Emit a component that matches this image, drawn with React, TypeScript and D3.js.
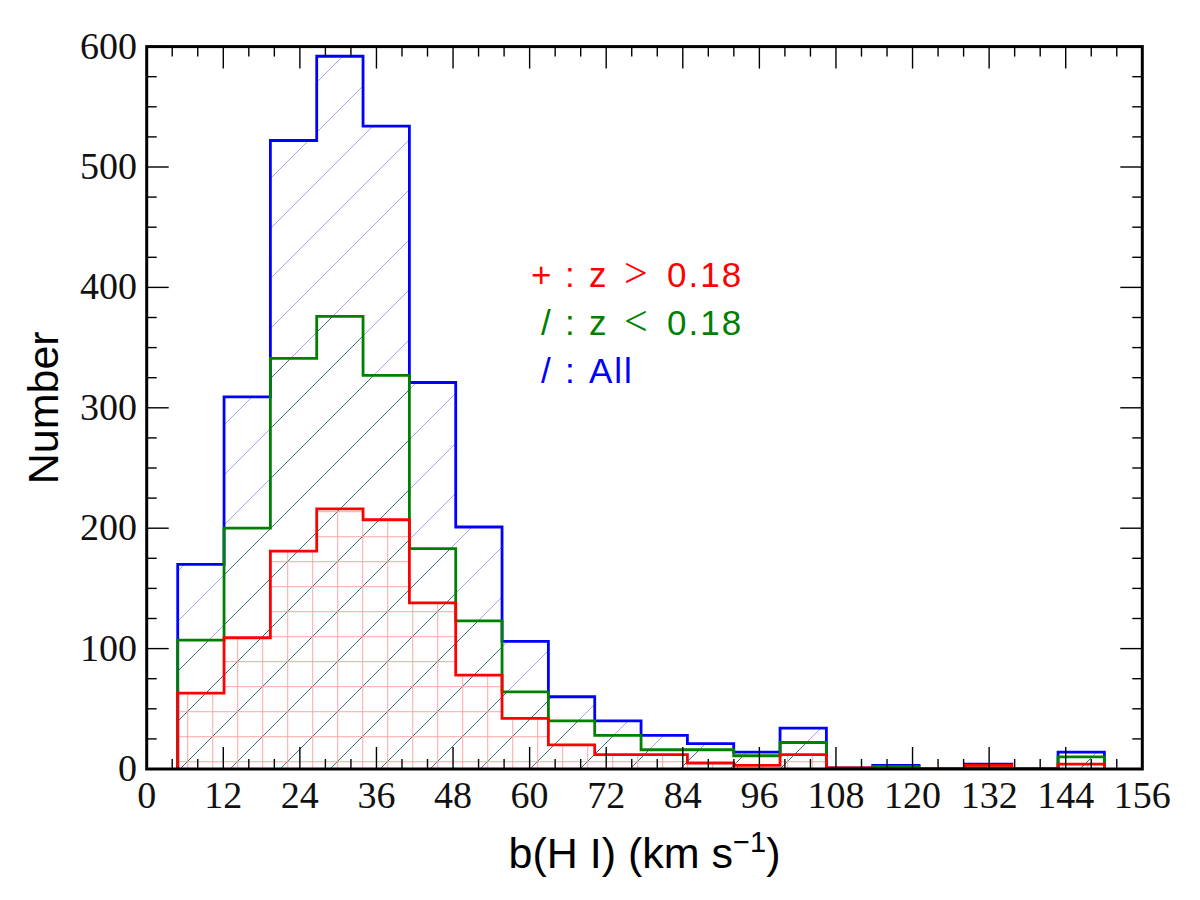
import React from 'react';
import * as d3 from 'd3';

// histogram binning: 20 equal bins starting at the smallest b value
const binStart = 4.86;
const binWidth = 7.26;
const binCount = 20;

// counts per bin
const allCounts = [170, 309, 522, 592, 534, 321, 201, 106, 60, 40, 28, 21, 14, 34, 1, 3, 0, 4, 0, 14];
const lowZCounts = [107, 200, 341, 376, 327, 183, 123, 64, 40, 28, 16, 16, 11, 22, 0, 2, 0, 1, 0, 10];
const highZCounts = [63, 109, 181, 216, 207, 138, 78, 42, 20, 12, 12, 5, 3, 12, 1, 0, 0, 3, 0, 4];

const xMajorTicks = [0, 12, 24, 36, 48, 60, 72, 84, 96, 108, 120, 132, 144, 156];
const yMajorTicks = [0, 100, 200, 300, 400, 500, 600];

// legend rows: hatch symbol, variable, relation, threshold
const legendSymbols = ['+', '/', '/'];
const legendVars = ['z', 'z', 'All'];
const legendOps = ['>', '<', ''];
const legendValues = ['0.18', '0.18', ''];

const W = 1200;
const H = 900;
const left = 146.7;
const right = 1142.3;
const top = 46.6;
const bottom = 769;

const serif = '"Liberation Serif", "DejaVu Serif", serif';
const sans = '"Liberation Sans", Arial, Helvetica, sans-serif';

export default function App() {
  const x = d3.scaleLinear().domain([0, 156]).range([left, right]);
  const y = d3.scaleLinear().domain([0, 600]).range([bottom, top]);

  const edges = d3.range(binCount + 1).map((i) => binStart + i * binWidth);

  const line = d3
    .line<[number, number]>()
    .x((d) => x(d[0]))
    .y((d) => y(d[1]));

  // outline of a step histogram, closed down to the baseline at both ends
  const stepPath = (counts: number[]) => {
    const pts: [number, number][] = [[edges[0], 0]];
    counts.forEach((c, i) => {
      pts.push([edges[i], c]);
      pts.push([edges[i + 1], c]);
    });
    pts.push([edges[binCount], 0]);
    return line(pts) as string;
  };

  const xMinor = d3.range(0, 157, 4).filter((v) => v % 12 !== 0);
  const yMinor = d3.range(0, 601, 25).filter((v) => v % 100 !== 0);

  const series = [
    { counts: allCounts, color: '#0000ff', fill: 'url(#hatchAll)' },
    { counts: lowZCounts, color: '#008000', fill: 'url(#hatchLow)' },
    { counts: highZCounts, color: '#ff0000', fill: 'url(#hatchHigh)' },
  ];
  const legendColors = ['#ff0000', '#008000', '#0000ff'];
  const legendSymX = [531, 541, 541];

  return (
    <svg
      width={W}
      height={H}
      style={{ position: 'absolute', left: 0, top: 0, background: '#fff' }}
    >
      <defs>
        <pattern id="hatchAll" patternUnits="userSpaceOnUse" width={50} height={50} x={-1} y={0}>
          <path d="M-5,5 L5,-5 M0,50 L50,0 M45,55 L55,45" stroke="#8c8cff" strokeWidth={0.8} />
        </pattern>
        <pattern id="hatchLow" patternUnits="userSpaceOnUse" width={50} height={50} x={-1} y={0}>
          <path d="M-5,5 L5,-5 M0,50 L50,0 M45,55 L55,45" stroke="#2f6570" strokeWidth={0.9} />
        </pattern>
        <pattern id="hatchHigh" patternUnits="userSpaceOnUse" width={25} height={25} x={0.2} y={-0.8}>
          <path d="M12.5,0 V25 M0,12.5 H25" stroke="#ff9c9c" strokeWidth={0.9} />
        </pattern>
        <clipPath id="plotArea">
          <rect x={left} y={top} width={right - left} height={bottom - top} />
        </clipPath>
      </defs>

      <rect x={0} y={0} width={W} height={H} fill="#fff" />

      <g clipPath="url(#plotArea)">
        {series.map((s, i) => (
          <g key={i}>
            <path d={stepPath(s.counts)} fill={s.fill} stroke="none" />
            <path
              d={stepPath(s.counts)}
              fill="none"
              stroke={s.color}
              strokeWidth={2.8}
              strokeLinejoin="miter"
            />
          </g>
        ))}
      </g>

      {/* ticks, pointing inward on all four sides */}
      <g stroke="#000" strokeWidth={1.4}>
        {xMajorTicks.map((t) => (
          <g key={`xm${t}`}>
            <line x1={x(t)} x2={x(t)} y1={bottom} y2={bottom - 22} />
            <line x1={x(t)} x2={x(t)} y1={top} y2={top + 22} />
          </g>
        ))}
        {xMinor.map((t) => (
          <g key={`xn${t}`}>
            <line x1={x(t)} x2={x(t)} y1={bottom} y2={bottom - 10} />
            <line x1={x(t)} x2={x(t)} y1={top} y2={top + 10} />
          </g>
        ))}
        {yMajorTicks.map((t) => (
          <g key={`ym${t}`}>
            <line x1={left} x2={left + 22} y1={y(t)} y2={y(t)} />
            <line x1={right} x2={right - 22} y1={y(t)} y2={y(t)} />
          </g>
        ))}
        {yMinor.map((t) => (
          <g key={`yn${t}`}>
            <line x1={left} x2={left + 10} y1={y(t)} y2={y(t)} />
            <line x1={right} x2={right - 10} y1={y(t)} y2={y(t)} />
          </g>
        ))}
      </g>

      <rect
        x={left}
        y={top}
        width={right - left}
        height={bottom - top}
        fill="none"
        stroke="#000"
        strokeWidth={3}
      />

      {/* tick labels */}
      <g fontFamily={serif} fontSize={38} fill="#111">
        {xMajorTicks.map((t) => (
          <text key={`xl${t}`} x={x(t)} y={808} textAnchor="middle">
            {t}
          </text>
        ))}
        {yMajorTicks.map((t) => (
          <text key={`yl${t}`} x={137} y={y(t) + 12} textAnchor="end">
            {t}
          </text>
        ))}
      </g>

      {/* axis titles */}
      <text x={(left + right) / 2} y={868} textAnchor="middle" fontFamily={sans} fontSize={43} fill="#000">
        b(H I) (km s<tspan dy={-16} fontSize={29}>−1</tspan>
        <tspan dy={16}>)</tspan>
      </text>
      <text
        transform={`translate(58, ${(top + bottom) / 2}) rotate(-90)`}
        textAnchor="middle"
        fontFamily={sans}
        fontSize={43}
        fill="#000"
      >
        Number
      </text>

      {/* hatch legend */}
      <g fontFamily={sans} fontSize={35}>
        {legendSymbols.map((sym, i) => {
          const by = 287 + i * 48;
          return (
            <g key={`lg${i}`} fill={legendColors[i]}>
              <text x={legendSymX[i]} y={by}>{sym}</text>
              <text x={565} y={by}>:</text>
              <text x={589} y={by} letterSpacing={legendVars[i].length > 1 ? 2 : 0}>
                {legendVars[i]}
              </text>
              {legendOps[i] && (
                <text x={624} y={by} fontFamily={serif} fontSize={42}>
                  {legendOps[i]}
                </text>
              )}
              {legendValues[i] && (
                <text x={667} y={by} letterSpacing={2}>
                  {legendValues[i]}
                </text>
              )}
            </g>
          );
        })}
      </g>
    </svg>
  );
}
